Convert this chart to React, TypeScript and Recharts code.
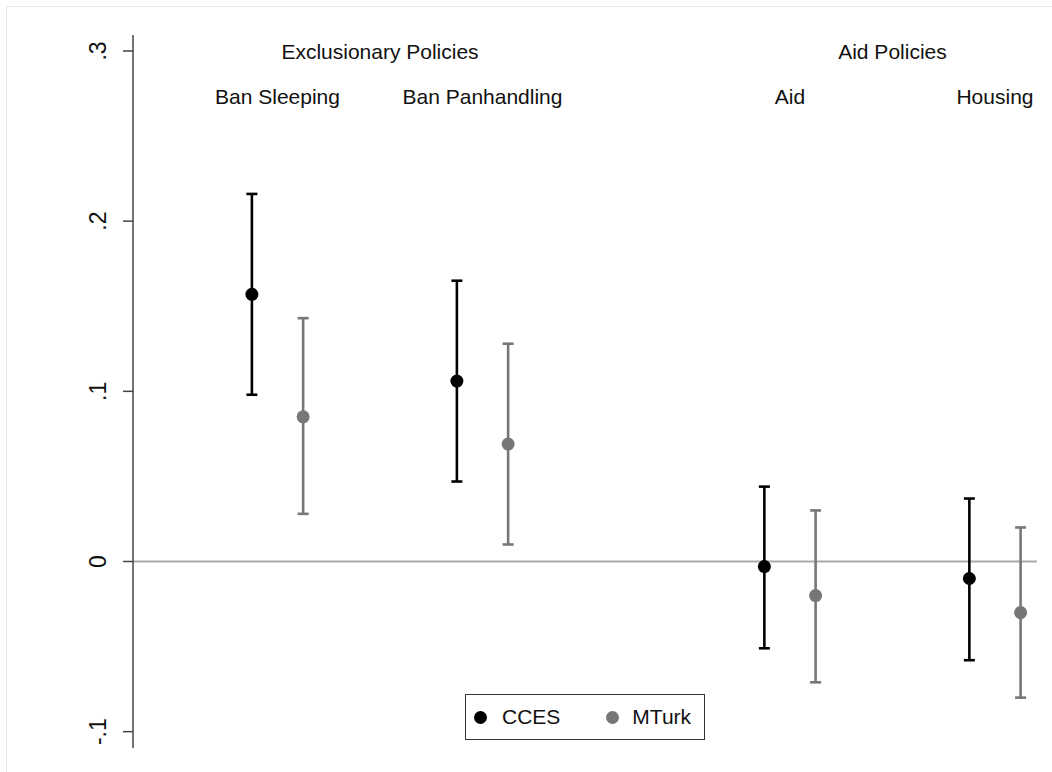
import {
  ComposedChart,
  Scatter,
  XAxis,
  YAxis,
  ErrorBar,
  ReferenceLine,
  Legend
} from "recharts";

const policies = ["Ban Sleeping", "Ban Panhandling", "Aid", "Housing"];
const ccesPos = [1, 2, 3.5, 4.5];
const mturkPos = [1.25, 2.25, 3.75, 4.75];

const ccesEst = [0.157, 0.106, -0.003, -0.01];
const ccesLow = [0.098, 0.047, -0.051, -0.058];
const ccesHigh = [0.216, 0.165, 0.044, 0.037];

const mturkEst = [0.085, 0.069, -0.02, -0.03];
const mturkLow = [0.028, 0.01, -0.071, -0.08];
const mturkHigh = [0.143, 0.128, 0.03, 0.02];

const groups = ["Exclusionary Policies", "Aid Policies"];
const groupPos = [1.625, 4.125];

const yTicks = [-0.1, 0, 0.1, 0.2, 0.3];
const yTickLabels = ["-.1", "0", ".1", ".2", ".3"];

const FONT = "'Liberation Sans', Arial, Helvetica, sans-serif";
const GRAY = "#777777";
const FS = 21;

const ccesData = ccesPos.map((x, i) => ({
  x,
  y: ccesEst[i],
  err: [ccesEst[i] - ccesLow[i], ccesHigh[i] - ccesEst[i]]
}));
const mturkData = mturkPos.map((x, i) => ({
  x,
  y: mturkEst[i],
  err: [mturkEst[i] - mturkLow[i], mturkHigh[i] - mturkEst[i]]
}));
const policyPos = ccesPos.map((p, i) => (p + mturkPos[i]) / 2);

const YTick = (props: any) => {
  const { x, y, payload } = props;
  const i = yTicks.indexOf(payload.value);
  return (
    <text
      transform={`translate(${x - 15},${y}) rotate(-90)`}
      textAnchor="middle"
      fontSize={23}
      fontFamily={FONT}
      fill="#111"
    >
      {yTickLabels[i]}
    </text>
  );
};

// text label hung from the top of an invisible vertical reference line
const topLabel = (text: string, dy: number) => (props: any) => {
  const vb = props.viewBox;
  return (
    <text x={vb.x} y={vb.y + dy} textAnchor="middle" fontSize={FS} fontFamily={FONT} fill="#111">
      {text}
    </text>
  );
};

const Dot = (color: string) => (props: any) => (
  <circle cx={props.cx} cy={props.cy} r={6.5} fill={color} />
);

const LegendBox = () => (
  <div
    style={{
      width: 238,
      height: 44,
      border: "1px solid #333",
      background: "#fff",
      display: "flex",
      alignItems: "center",
      fontFamily: FONT,
      fontSize: FS,
      color: "#111",
      boxSizing: "content-box"
    }}
  >
    <span style={{ width: 13, height: 13, borderRadius: 7, background: "#000", marginLeft: 8 }} />
    <span style={{ marginLeft: 15 }}>CCES</span>
    <span style={{ width: 13, height: 13, borderRadius: 7, background: GRAY, marginLeft: 46 }} />
    <span style={{ marginLeft: 13 }}>MTurk</span>
  </div>
);

export default function App() {
  return (
    <div style={{ position: "absolute", left: 0, top: 0, width: 1052, height: 772, background: "#fff" }}>
      <div
        style={{
          position: "absolute",
          left: 6,
          top: 6,
          width: 1060,
          height: 780,
          borderTop: "1px solid #e6edf0",
          borderLeft: "1px solid #e6edf0"
        }}
      />
      <div style={{ position: "absolute", left: 0, top: 0 }}>
        <ComposedChart width={1052} height={772} margin={{ top: 35, right: 15, bottom: 24, left: 73 }}>
          <XAxis xAxisId="main" type="number" dataKey="x" domain={[0.42, 4.83]} allowDataOverflow hide />
          <YAxis
            type="number"
            domain={[-0.1096, 0.3094]}
            allowDataOverflow
            ticks={yTicks}
            interval={0}
            width={60}
            tickSize={10}
            stroke="#444"
            axisLine={{ stroke: "#444", strokeWidth: 1.5 }}
            tickLine={{ stroke: "#444", strokeWidth: 1.5 }}
            tick={<YTick />}
          />
          <ReferenceLine xAxisId="main" y={0} stroke="#ababab" strokeWidth={2.2} />
          {groups.map((g, i) => (
            <ReferenceLine
              key={g}
              xAxisId="main"
              x={groupPos[i]}
              stroke="none"
              label={topLabel(g, 24)}
            />
          ))}
          {policies.map((p, i) => (
            <ReferenceLine
              key={p}
              xAxisId="main"
              x={policyPos[i]}
              stroke="none"
              label={topLabel(p, 69)}
            />
          ))}
          <Scatter
            xAxisId="main"
            name="CCES"
            data={ccesData}
            dataKey="y"
            fill="#000"
            shape={Dot("#000")}
            isAnimationActive={false}
          >
            <ErrorBar dataKey="err" direction="y" width={5.5} stroke="#000" strokeWidth={2.6} isAnimationActive={false} />
          </Scatter>
          <Scatter
            xAxisId="main"
            name="MTurk"
            data={mturkData}
            dataKey="y"
            fill={GRAY}
            shape={Dot(GRAY)}
            isAnimationActive={false}
          >
            <ErrorBar dataKey="err" direction="y" width={5.5} stroke={GRAY} strokeWidth={2.6} isAnimationActive={false} />
          </Scatter>
          <Legend
            verticalAlign="middle"
            align="center"
            layout="horizontal"
            content={<LegendBox />}
            wrapperStyle={{ position: "absolute", left: 465, top: 694, width: 240 }}
          />
        </ComposedChart>
      </div>
    </div>
  );
}
